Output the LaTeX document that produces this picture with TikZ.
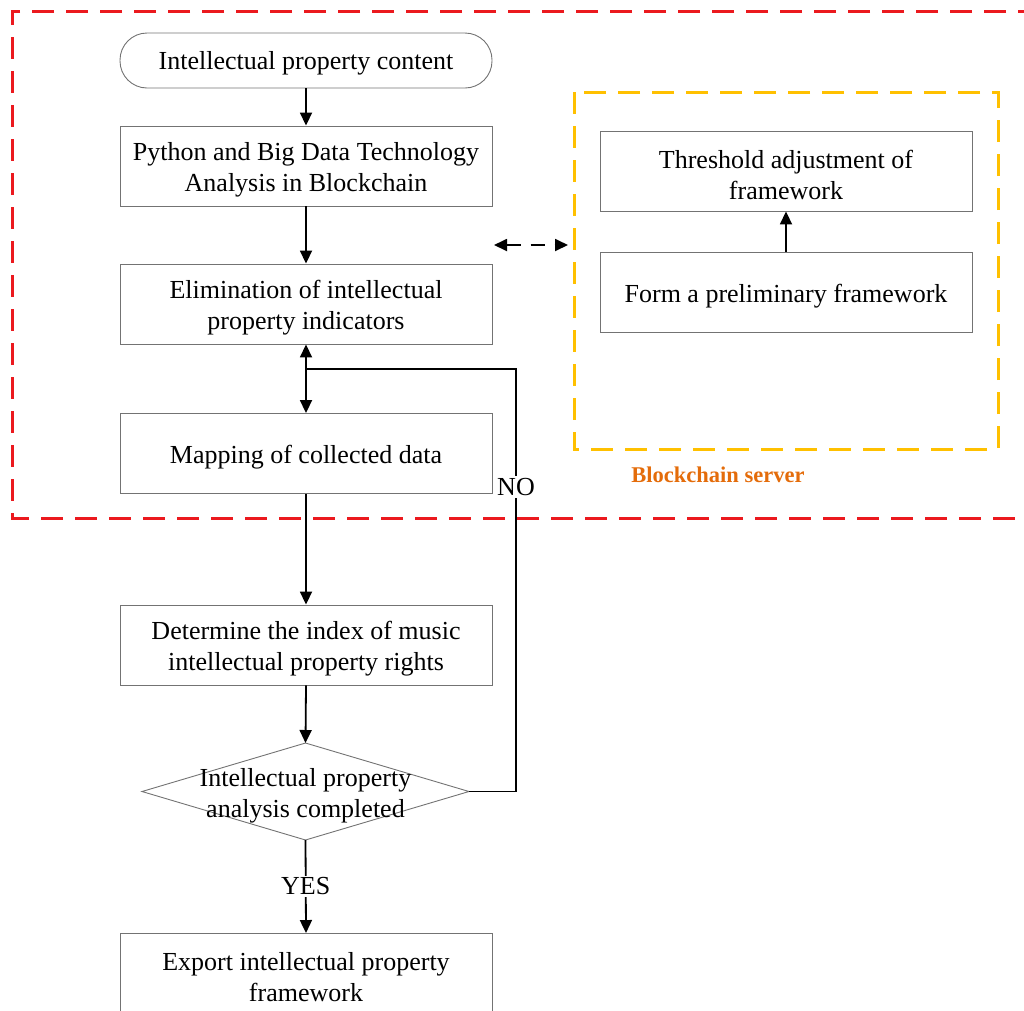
\documentclass[tikz,border=0pt]{standalone}
\usepackage{fontspec}
\setmainfont{Liberation Serif}
\usetikzlibrary{arrows.meta,shapes.geometric}
\definecolor{redline}{RGB}{235,25,30}
\definecolor{goldline}{RGB}{255,192,0}
\definecolor{servertext}{RGB}{228,108,10}
\begin{document}
\begin{tikzpicture}[x=1pt,y=-1pt,
  box/.style={draw=black!55,line width=0.9pt,minimum width=372pt,minimum height=80pt,inner sep=0pt},
  txt/.style={align=center,font=\fontsize{26}{31}\selectfont,inner sep=0pt,yshift=-4pt},
  arr/.style={line width=1.8pt,-{Triangle[length=13pt,width=12pt]}},
  darr/.style={line width=1.8pt,{Triangle[length=13pt,width=12pt]}-{Triangle[length=13pt,width=12pt]}},
  conn/.style={line width=1.8pt},
  lbl/.style={fill=white,font=\fontsize{26}{30}\selectfont,inner sep=2pt}]
\useasboundingbox (0,0) rectangle (1024,1010);
\draw[redline,line width=3pt,dash pattern=on 22pt off 12pt] (1040,11) -- (12,11) -- (12,518) -- (1040,518);
\draw[goldline,line width=3pt,dash pattern=on 22pt off 12pt] (574,92) rectangle (998,449);
\node[box,rounded corners=27pt,minimum height=55pt,label={[txt,yshift=1pt]center:{Intellectual property content}}] (c) at (306,60.5) {};
\node[box,label={[txt]center:{Python and Big Data Technology\\Analysis in Blockchain}}] (p) at (306,166) {};
\node[box,label={[txt]center:{Elimination of intellectual\\property indicators}}] (e) at (306,304) {};
\node[box,label={[txt]center:{Mapping of collected data}}] (m) at (306,453.5) {};
\node[box,label={[txt]center:{Determine the index of music\\intellectual property rights}}] (d) at (306,645) {};
\draw[black!55,line width=0.9pt] (142,791.5) -- (305.5,743) -- (469,791.5) -- (305.5,840) -- cycle;
\node[txt] (q) at (305.5,792) {Intellectual property\\analysis completed};
\coordinate (qn) at (305.5,743);
\coordinate (qs) at (305.5,840);
\coordinate (qe) at (469,791.5);
\node[box,anchor=north,label={[txt]center:{Export intellectual property\\framework}}] (x) at (306,933) {};
\node[box,label={[txt]center:{Threshold adjustment of\\framework}}] (t) at (786,171) {};
\node[box,label={[txt]center:{Form a preliminary framework}}] (f) at (786,292) {};
\node[font=\bfseries\fontsize{22.5}{26}\selectfont,text=servertext] (bs) at (718,475) {Blockchain server};
\coordinate (j) at (305,369);
\coordinate (jr) at (516,369);
\coordinate (l) at (494,245);
\coordinate (r) at (568,245);
\draw[arr] (c.south) -- (p.north);
\draw[arr] (p.south) -- (e.north);
\draw[darr] (e.south) -- (m.north);
\draw[arr] (m.south) -- (d.north);
\draw[arr] (d.south) -- (qn);
\draw[arr] (qs) -- node[lbl] (yes) {YES} (x.north);
\draw[conn] (qe) -| (jr) -- (j);
\node[lbl] (no) at (516,487) {NO};
\draw[arr] (f.north) -- (t.south);
\draw[darr,dash pattern=on 14pt off 10pt] (l) -- (r);
\end{tikzpicture}
\end{document}
